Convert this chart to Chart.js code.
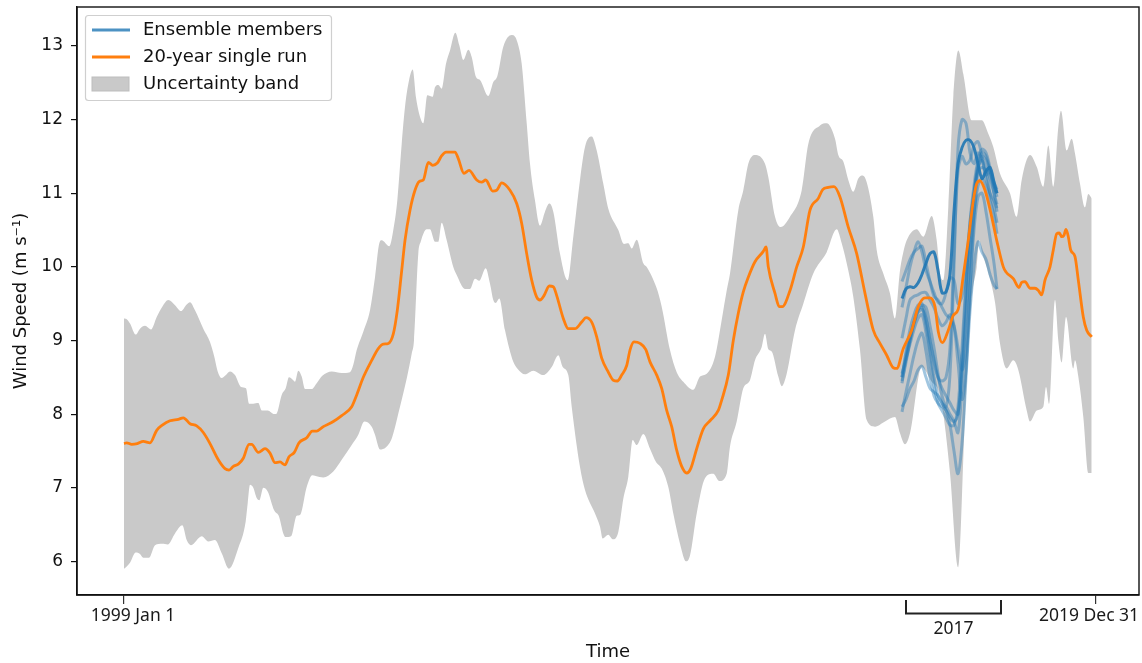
<!DOCTYPE html>
<html><head><meta charset="utf-8">
<style>html,body{margin:0;padding:0;background:#fff}canvas{display:block}</style>
<script src="https://cdn.jsdelivr.net/npm/chart.js@4"></script>
</head><body><canvas id="c" width="1142" height="663" style="width:1142px;height:663px"></canvas>
<script>
// time is in steps from the start of the record (0 = 1999 Jan 1)
const upperT=[0,2.7,6,11.7,16,21,27,32.7,38.3,44.3,51,57,62.7,66,71,79.3,86,90.3,93.7,97.7,101,106,111,117,122,125,129.3,134.3,137.7,143.7,150.3,152.7,157.7,161.7,165,169.3,171,174.3,177.7,181,187.7,192.7,198.3,207.7,217.7,226,229.3,232.7,239.3,246,251,255.3,257.7,265.3,269.3,273.3,277.7,281,285,288.7,292,296.7,299.3,303.3,308.7,311,314.3,317.7,322,326,331.3,335.3,339.3,344.3,347.7,352,356,364.3,369.3,373.3,379.3,387.7,392.7,397.7,402.7,406,411,416,421,425.3,429.3,436,443.7,449.3,456,461,467.7,472.7,479.3,484.3,494.3,500,504.3,507.7,512.7,519.3,522.7,532.7,537.7,546,552.7,559.3,569.3,576,582.7,591,597.7,602.7,606,614.3,619.3,624.3,631,641,644.3,651,656.7,666,677.7,684.3,696,702.7,711,714.3,719.3,724.3,729.3,734.3,738.7,742.7,749.3,752.7,759.3,766,771,776,779.3,782.7,792.7,799.3,807.7,812.7,816,819.3,824.3,829.3,834.3,839.3,847.7,857.7,864.3,869.3,876,886,892.7,897.7,906,912.7,919.3,924.3,929.3,934.3,937,942.7,947.7,951,956,961,964.3,967.7];
const upperV=[9.30,9.29,9.23,9.08,9.16,9.2,9.15,9.32,9.46,9.55,9.48,9.4,9.49,9.52,9.41,9.16,8.98,8.78,8.58,8.49,8.52,8.58,8.53,8.37,8.35,8.14,8.14,8.15,8.05,8.05,8.0,8.01,8.26,8.35,8.5,8.46,8.44,8.59,8.51,8.34,8.34,8.42,8.52,8.58,8.56,8.57,8.67,8.87,9.12,9.41,9.86,10.32,10.36,10.28,10.5,10.9,11.67,12.17,12.53,12.68,12.3,12.01,11.95,12.33,12.31,12.44,12.47,12.42,12.76,12.94,13.18,13.01,12.81,12.95,12.85,12.58,12.54,12.32,12.51,12.59,12.99,13.15,13.08,12.76,11.95,11.4,10.9,10.56,10.75,10.86,10.75,10.18,9.82,10.41,11.18,11.63,11.77,11.58,11.13,10.79,10.5,10.31,10.32,10.25,10.37,10.05,10.0,9.71,9.46,8.87,8.57,8.44,8.33,8.51,8.55,8.78,9.28,9.68,9.91,10.77,11.04,11.40,11.52,11.40,11.22,10.68,10.54,10.68,11.04,11.67,11.92,11.95,11.74,11.52,11.43,11.18,11.02,11.2,11.24,11.15,10.68,10.23,9.91,9.64,9.30,9.95,10.2,10.36,10.51,10.41,10.69,10.36,9.91,9.82,10.81,12.31,12.94,12.62,11.99,11.99,11.81,11.63,11.27,11.0,10.68,11.18,11.52,11.36,11.09,11.65,11.09,11.90,12.12,11.58,11.74,11.54,11.13,10.81,10.99,10.93];
const lowerT=[0,2.7,6,11.7,16,19.3,25,31,38.3,43.7,51,58.3,62.7,67,77.7,84.3,91,97.7,105,114.3,121.7,123.7,126,129.3,132.7,135.3,139.3,143.7,150.3,155,159.3,161.7,167,172.7,176,182.7,188.3,191.7,199.3,209.3,217.7,227.7,234.3,240.3,247.7,251,256,262,268,276,283,287.7,290,294.3,296.7,302.7,306,311,314.3,317.7,322.7,329.3,332.7,341,346,351,355.3,361.7,366,369.3,371.7,375.3,381,389.3,393.3,401,409.3,419.3,427.7,434.3,438.7,444.3,447.7,456,461,471,476,478.7,484.3,488.7,494.3,499.3,504.3,508.7,512.7,519.3,526,532,537.7,544.3,549.3,556,562,566,572.7,581,589.3,595.3,602.7,606,612.7,619.3,626,631,637.7,641,644.3,647.7,654.3,657.7,662.7,671,679.3,689.3,702.7,712.7,717.7,724.3,729.3,736,742.7,751,761,771,776,781,786,797.7,807.7,814.3,819.3,826,834.3,841,847.7,852.7,855.3,858,863,871,876,882.7,889.3,894.3,902.7,906,912.7,919.3,922,925,931,934.3,937.7,942,949.3,951,954.3,959.3,964.3,967.7];
const lowerV=[5.9,5.93,5.98,6.12,6.1,6.05,6.05,6.22,6.24,6.23,6.38,6.49,6.29,6.22,6.34,6.27,6.29,6.11,5.9,6.18,6.54,6.79,7.04,7.0,6.86,6.83,7.0,6.95,6.69,6.61,6.38,6.33,6.34,6.62,6.63,7.01,7.17,7.16,7.14,7.22,7.38,7.58,7.72,7.9,7.83,7.72,7.52,7.55,7.68,8.1,8.5,8.82,9.0,10.18,10.34,10.51,10.51,10.34,10.34,10.6,10.36,10.0,9.89,9.7,9.7,9.84,9.81,9.98,9.77,9.55,9.51,9.57,9.14,8.71,8.62,8.54,8.59,8.53,8.64,8.8,8.64,8.53,8.1,7.28,6.97,6.65,6.47,6.31,6.36,6.3,6.4,6.85,7.15,7.65,7.58,7.73,7.53,7.35,7.26,7.01,6.65,6.24,6.0,6.08,6.65,7.13,7.19,7.09,7.19,7.56,7.9,8.35,8.46,8.73,8.91,9.09,8.88,8.85,8.51,8.38,8.55,9.14,9.5,9.91,10.2,10.51,10.32,9.95,9.59,8.87,7.92,7.83,7.9,7.96,7.74,7.59,7.74,8.64,8.44,8.32,8.0,7.2,5.92,7.96,9.55,10.0,10.36,10.2,9.98,9.52,8.96,8.62,8.73,8.6,8.05,7.9,8.05,8.1,8.37,8.14,9.55,9.0,8.7,9.32,8.62,8.73,8.51,7.96,7.2,7.2];
const runT=[0,2.7,7.7,13.3,19.3,26,32.7,38.3,46,54.3,59.3,66,72.7,79.3,86,94.3,101,105,109.3,114.3,119.3,125,127.7,134.3,141,146,151,156,161,165,170.3,175,182.7,188.3,192.7,199.3,209.3,217.7,227.7,232.7,239.3,247.7,254.3,259.3,264.3,269.3,273.3,277.7,281,286,291,295.3,299.3,304.3,308.7,313.3,317.7,322,326,331,334.3,340,345,352.7,357.7,361.7,368.7,372.7,377.7,386,392.7,397.7,402.7,407.7,412.7,416,420,425.3,429.3,432.7,439.3,444.3,451,457.7,462,467.7,472.7,477.7,484.3,489.3,493.3,497.7,502.7,506,510,516,521.7,526,532.7,537.7,542.7,547.7,552.7,557.7,562.7,566.7,572.7,579.3,586,594.3,597.7,604.3,609.3,614.3,619.3,624.3,631,639.3,642,644.3,651,655.3,658.3,666,672.7,679.3,686,694.3,698.7,704.3,710,716,724.3,732.7,741,749.3,756,762.7,769.3,772.7,779.3,787.7,794.3,801,806,811,814.3,818.3,824.3,829.3,834.3,839.3,844.3,849.3,852.7,856,861,867.7,872.7,879.3,882,889.3,895,897.7,901,906,911,914.3,917.7,921,926,929.3,932.7,935.3,937.7,940,942,944.3,946.7,951,954.3,959.3,962.7,967.7];
const runV=[7.6,7.61,7.59,7.6,7.63,7.61,7.78,7.85,7.91,7.93,7.95,7.87,7.84,7.75,7.6,7.38,7.26,7.24,7.29,7.32,7.4,7.59,7.59,7.48,7.53,7.47,7.34,7.35,7.31,7.42,7.48,7.61,7.68,7.77,7.77,7.83,7.9,7.98,8.1,8.26,8.5,8.73,8.89,8.95,8.96,9.09,9.41,9.95,10.36,10.77,11.04,11.16,11.18,11.42,11.38,11.41,11.51,11.56,11.56,11.56,11.47,11.27,11.31,11.18,11.15,11.18,11.03,11.04,11.14,11.04,10.86,10.59,10.18,9.82,9.59,9.55,9.61,9.74,9.73,9.61,9.3,9.16,9.16,9.25,9.31,9.25,9.05,8.76,8.57,8.46,8.45,8.53,8.66,8.87,8.98,8.96,8.88,8.71,8.53,8.35,8.05,7.83,7.51,7.29,7.2,7.26,7.53,7.8,7.91,8.05,8.19,8.53,9.0,9.37,9.66,9.86,10.07,10.21,10.27,10.0,9.64,9.46,9.46,9.68,10.0,10.27,10.77,10.93,11.05,11.08,11.09,10.95,10.54,10.18,9.64,9.14,8.96,8.8,8.63,8.62,8.89,9.14,9.46,9.58,9.58,9.46,9.12,8.97,9.14,9.34,9.43,9.88,10.36,10.9,11.13,11.17,11.04,10.68,10.36,10.0,9.93,9.84,9.72,9.79,9.8,9.71,9.71,9.68,9.62,9.82,10.0,10.23,10.45,10.46,10.41,10.43,10.51,10.41,10.23,10.14,9.82,9.32,9.14,9.05];
const memberT=[778,782,786,790,794,798,802,806,810,814,818,822,826,830,834,838,842,846,850,854,858,862,866,870,873];
const memberBold=[9.57,9.70,9.73,9.72,9.78,9.90,10.05,10.18,10.2,9.95,9.65,9.66,9.9,10.75,11.4,11.62,11.72,11.72,11.62,11.4,11.2,11.3,11.35,11.15,11.0];
const member2=[8.42,8.75,9.0,9.22,9.4,9.48,9.45,9.2,8.9,8.55,8.25,8.1,8.55,10.0,11.6,12.0,11.95,11.55,11.4,11.55,11.45,11.2,11.0,10.9,10.8];
const member3=[8.5,8.8,9.05,9.25,9.38,9.42,9.3,9.0,8.7,8.5,8.45,8.5,8.9,10.2,11.3,11.5,11.4,11.45,11.65,11.7,11.5,11.25,11.3,11.1,10.95];
const member4=[9.45,9.72,10.0,10.2,10.34,10.2,9.95,9.8,9.65,9.52,9.5,9.65,9.85,9.82,9.5,9.6,10.0,10.6,11.0,11.3,11.35,11.3,11.0,10.8,10.6];
const member5=[9.8,9.95,10.1,10.2,10.25,10.28,10.05,9.8,9.6,9.55,9.45,9.35,9.3,9.2,8.9,8.6,8.85,9.7,10.7,11.3,11.5,11.45,11.3,11.0,10.75];
const member6=[9.03,9.3,9.55,9.6,9.62,9.65,9.65,9.55,9.45,9.3,9.2,9.25,9.35,9.2,8.7,8.2,8.6,9.7,10.5,10.95,11.0,10.75,10.4,10.05,9.7];
const member7=[8.03,8.3,8.55,8.8,9.0,9.1,8.85,8.5,8.25,8.15,8.1,8.05,7.85,7.5,7.19,7.6,8.5,9.4,10.0,10.34,10.2,10.1,9.9,9.75,9.7];
const member8=[8.1,8.2,8.35,8.45,8.6,8.65,8.5,8.35,8.3,8.25,8.15,8.05,7.95,7.9,8.0,8.6,9.3,10.1,10.7,11.1,11.2,11.1,10.9,10.7,10.45];
const member9=[8.55,8.75,8.95,9.15,9.3,9.35,9.1,8.75,8.4,8.15,8.05,7.95,7.85,7.85,8.1,8.9,9.8,10.5,11.0,11.35,11.45,11.35,11.2,11.0,10.85];
const member10=[8.45,8.7,9.0,9.25,9.42,9.45,9.2,8.85,8.5,8.25,8.15,8.1,8.0,7.9,7.75,8.4,9.4,10.3,10.95,11.4,11.55,11.5,11.3,11.1,11.0];
const member11=[8.5,8.85,9.15,9.35,9.48,9.5,9.3,9.0,8.75,8.5,8.35,8.25,8.15,8.05,8.0,8.7,9.7,10.6,11.1,11.45,11.6,11.55,11.35,11.15,11.05];
const yTicks=[6,7,8,9,10,11,12,13];
const xTickValues=[0,972];
const xTickLabels=['1999 Jan 1','2019 Dec 31'];
const legendLabels=['Ensemble members','20-year single run','Uncertainty band'];
const bracketRange=[782,877];
const bracketLabel='2017';

const BAND='#c9c9c9',ORANGE='#ff7f0e',BLUE='rgba(31,119,180,0.42)',BLUEB='rgba(31,119,180,0.9)';
const DV='"DejaVu Sans"',CAL='"Noto Sans"';
const pairs=(t,v)=>t.map((x,i)=>({x,y:v[i]}));
const band=(l,t,v,extra)=>Object.assign({label:l,data:pairs(t,v),borderWidth:0,pointRadius:0,cubicInterpolationMode:'monotone',order:5},extra);
const mem=(l,v,bold)=>({label:l,data:pairs(memberT,v),borderColor:bold?BLUEB:BLUE,borderWidth:3,pointRadius:0,fill:false,tension:0.35,order:bold?2:3});

const annot={id:'annot',
 afterDraw(c){const g=c.ctx,a=c.chartArea,x=c.scales.x;
  g.save();
  g.strokeStyle='#111';g.lineWidth=1.4;g.strokeRect(a.left,a.top,a.right-a.left,a.bottom-a.top);
  g.fillStyle='#1a1a1a';g.font='17.5px '+CAL;g.textAlign='center';g.textBaseline='middle';
  g.fillText(xTickLabels[0],x.getPixelForValue(xTickValues[0])+9,616);
  g.fillText(xTickLabels[1],x.getPixelForValue(xTickValues[1])-7,616);
  const b0=x.getPixelForValue(bracketRange[0]),b1=x.getPixelForValue(bracketRange[1]);
  g.lineWidth=2;g.strokeStyle='#222';g.beginPath();g.moveTo(b0,600);g.lineTo(b0,613.5);g.lineTo(b1,613.5);g.lineTo(b1,600);g.stroke();
  g.fillText(bracketLabel,(b0+b1)/2,629);
  g.fillStyle='rgba(255,255,255,0.85)';g.strokeStyle='#cfcfcf';g.lineWidth=1.2;
  g.beginPath();g.roundRect(85.5,15.5,246,85,3);g.fill();g.stroke();
  g.lineWidth=2.8;g.strokeStyle='rgba(31,119,180,0.8)';g.beginPath();g.moveTo(92,30);g.lineTo(130,30);g.stroke();
  g.strokeStyle=ORANGE;g.beginPath();g.moveTo(92,57);g.lineTo(130,57);g.stroke();
  g.fillStyle=BAND;g.strokeStyle='#bdbdbd';g.lineWidth=1;g.fillRect(92,77,37,14);g.strokeRect(92,77,37,14);
  g.fillStyle='#111';g.font='18px '+DV;g.textAlign='left';
  legendLabels.forEach((s,i)=>g.fillText(s,143,[30,57,84][i]));
  g.restore();}};

new Chart(document.getElementById('c'),{type:'line',
 data:{datasets:[
  band('Uncertainty upper',upperT,upperV,{fill:false}),
  band('Uncertainty band',lowerT,lowerV,{fill:0,backgroundColor:BAND}),
  mem('m2',member2),mem('m3',member3),mem('m4',member4),mem('m5',member5),mem('m6',member6),mem('m7',member7),mem('m8',member8),mem('m9',member9),mem('m10',member10),mem('m11',member11),
  mem('Ensemble members',memberBold,true),
  {label:'20-year single run',data:pairs(runT,runV),borderColor:ORANGE,borderWidth:2.8,pointRadius:0,fill:false,cubicInterpolationMode:'monotone',order:1}
 ]},
 options:{responsive:false,animation:false,devicePixelRatio:1,
  layout:{padding:{top:0,right:3,left:0,bottom:0}},
  plugins:{legend:{display:false},tooltip:{enabled:false},title:{display:false},filler:{propagate:false}},
  scales:{
   x:{type:'linear',min:-47,max:1015,
    afterBuildTicks:s=>{s.ticks=xTickValues.map(v=>({value:v}))},
    afterFit:s=>{s.height=68},
    ticks:{display:false},
    grid:{display:true,drawOnChartArea:false,drawTicks:true,tickLength:9,color:'#333',lineWidth:1.2},
    border:{color:'#111',width:1.4},
    title:{display:true,text:'Time',font:{family:DV,size:18},color:'#111',padding:{top:0,bottom:0}}},
   y:{type:'linear',min:5.543,max:13.53,
    afterBuildTicks:s=>{s.ticks=yTicks.map(v=>({value:v}))},
    afterFit:s=>{s.width=77;s.paddingTop=7;s.paddingBottom=0},
    ticks:{font:{family:DV,size:17},color:'#111',padding:8,callback:v=>String(v)},
    grid:{display:true,drawOnChartArea:false,drawTicks:true,tickLength:6,color:'#111',lineWidth:1.2},
    border:{color:'#111',width:1.4},
    title:{display:true,text:'Wind Speed (m s⁻¹)',font:{family:DV,size:18},color:'#111',padding:{top:11,bottom:0}}}
  }},
 plugins:[annot]});
</script></body></html>
